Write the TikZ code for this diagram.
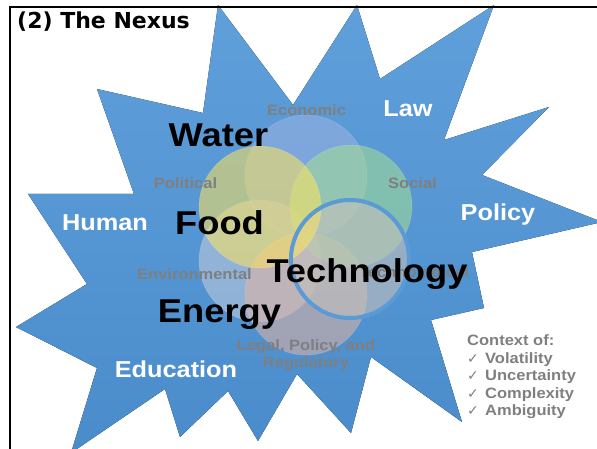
\documentclass[tikz,border=0pt]{standalone}
\usepackage{fontspec}
\setmainfont{Liberation Sans}[FakeStretch=1.1]
\newfontfamily\titlefont{DejaVu Sans}
\newfontfamily\symfont{DejaVu Sans}
\definecolor{starTop}{HTML}{5FA0DB}
\definecolor{starBot}{HTML}{4A8BCB}
\definecolor{labelgray}{HTML}{7F7F7F}
\definecolor{ringblue}{HTML}{5B9BD5}
\definecolor{cEnv}{HTML}{C6CEDD}
\definecolor{cLegal}{HTML}{E2B4A0}
\definecolor{cTech}{HTML}{C4C0BC}
\definecolor{cEcon}{HTML}{9DB2E2}
\definecolor{cSoc}{HTML}{A6E092}
\definecolor{cPol}{HTML}{FFE45C}
\tikzset{
  bigword/.style={font=\bfseries\fontsize{33}{33}\selectfont, text=black, inner sep=0pt, anchor=base},
  wlabel/.style={font=\bfseries\fontsize{23}{23}\selectfont, text=white, inner sep=0pt, anchor=base},
  glabel/.style={font=\bfseries\fontsize{15}{15}\selectfont, text=labelgray, inner sep=0pt, anchor=base},
  ctxline/.style={font=\bfseries\fontsize{15}{15}\selectfont, text=labelgray, inner sep=0pt, anchor=base west},
  venn/.style={fill opacity=0.55, draw=white, draw opacity=0.12, line width=0.8pt},
}
\newcommand{\chk}[1]{\makebox[18pt][l]{\symfont\mdseries\fontsize{14}{14}\selectfont ✓}#1}
\begin{document}
\begin{tikzpicture}[x=1pt,y=-1pt]
\useasboundingbox (0,0) rectangle (597,449);
\begin{scope}
\clip (0,0) rectangle (597,449);
% explosion star
\fill[top color=starTop, bottom color=starBot]
  (218,5) -- (293,105) -- (357,5) -- (380,79) -- (494,5) -- (444,140)
  -- (549,107) -- (482,175) -- (602,222) -- (472,252) -- (484,308)
  -- (431,320) -- (462,422) -- (371,357) -- (351,433) -- (297,374)
  -- (258,441) -- (228,391) -- (180,437) -- (165,389) -- (71,453)
  -- (97,368) -- (16,327) -- (87,284) -- (28,194) -- (134,194)
  -- (97,89) -- (203,113) -- cycle;
\end{scope}
% Venn circles
\fill[venn, fill=cEnv]   (260,261) circle (61);
\fill[venn, fill=cLegal] (306,294) circle (61);
\fill[venn, fill=cEcon]  (306,176) circle (61);
\fill[venn, fill=cSoc]   (351,206) circle (61);
\fill[venn, fill=cTech, fill opacity=0.6]  (350,259) circle (60);
\fill[venn, fill=cPol]   (260,207) circle (61);
\draw[ringblue, line width=4pt] (350,259) circle (59);
% gray labels
\node[glabel] (econ) at (306.5,116) {Economic};
\node[glabel] (pol)  at (185.5,189) {Political};
\node[glabel] (soc)  at (412.5,189) {Social};
\node[glabel] (env)  at (194.5,279) {Environmental};
\node[glabel] (tecl) at (414,277) {Technological};
\node[glabel] (leg1) at (306,350) {Legal, Policy, and};
\node[glabel] (leg2) at (306,367) {Regulatory};
% big black words
\node[bigword] (water)  at (218.5,147) {Water};
\node[bigword] (food)   at (219.5,235) {Food};
\node[bigword] (energy) at (219.5,322) {Energy};
\node[bigword] (tech)   at (367,282) {Technology};
% white labels
\node[wlabel] (human) at (105,230) {Human};
\node[wlabel] (law)   at (408,117) {Law};
\node[wlabel] (policy) at (498,221) {Policy};
\node[wlabel] (edu)   at (176,377) {Education};
% context list
\node[ctxline] (ctx)  at (467,345) {Context of:};
\node[ctxline] (vol)  at (467,363) {\chk{Volatility}};
\node[ctxline] (unc)  at (467,380.5) {\chk{Uncertainty}};
\node[ctxline] (cpx)  at (467,398) {\chk{Complexity}};
\node[ctxline] (amb)  at (467,415.5) {\chk{Ambiguity}};
% title
\node[font=\titlefont\bfseries\fontsize{22}{22}\selectfont, inner sep=0pt, anchor=base west] (title) at (17,29) {(2) The Nexus};
% frame
\draw[line width=2pt, black] (10,449) -- (10,7) -- (597,7);
\end{tikzpicture}
\end{document}
